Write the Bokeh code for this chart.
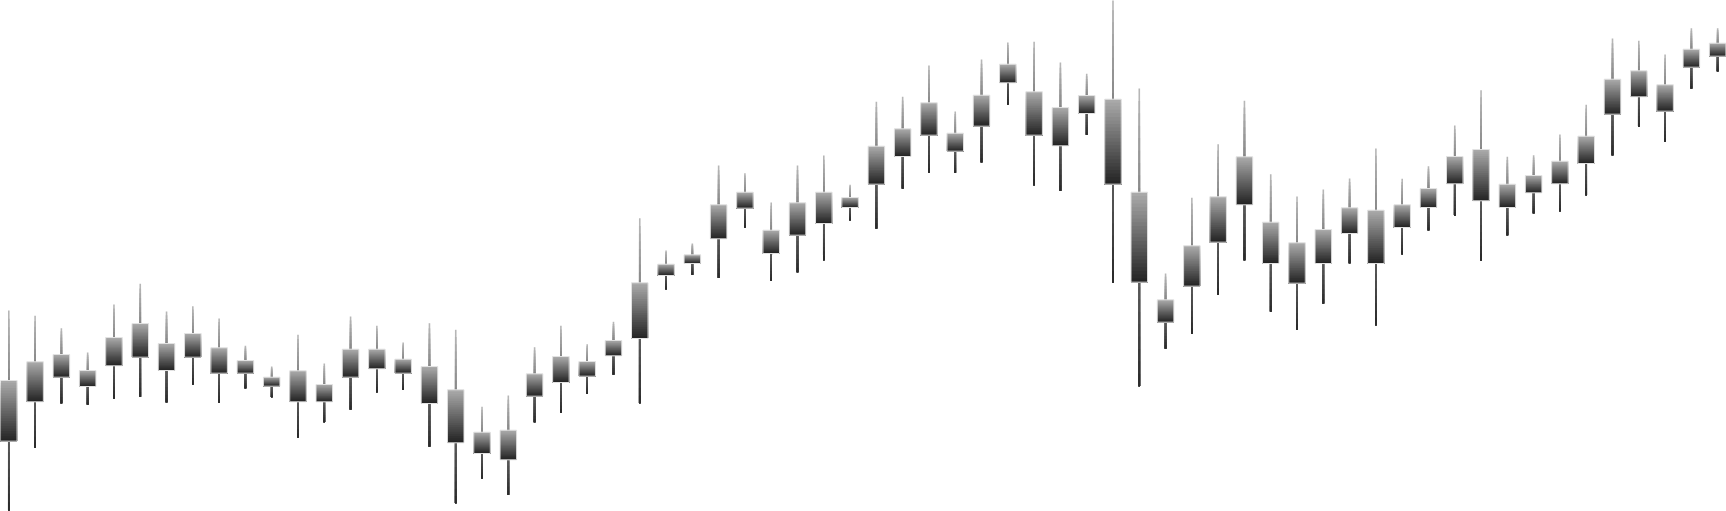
from bokeh.plotting import figure
from bokeh.models import Range1d, ColumnDataSource
from bokeh.embed import file_html
from bokeh.resources import INLINE

# OHLC data (66 sessions)
open_ = [112.0, 109.87, 112.33, 113.0, 113.47, 114.33, 115.7, 114.33, 115.27, 114.0,
         112.33, 112.97, 111.6, 112.33, 115.13, 114.13, 113.4, 111.07, 106.83, 104.07,
         110.43, 111.8, 113.9, 114.47, 116.2, 122.5, 123.7, 126.17, 129.23, 127.03,
         126.53, 127.7, 129.3, 131.63, 134.4, 136.53, 136.73, 137.43, 141.77, 140.87,
         139.3, 138.7, 140.13, 130.83, 120.07, 121.43, 125.83, 129.57, 127.83, 125.77,
         123.7, 126.7, 129.03, 127.3, 129.3, 131.67, 135.1, 129.3, 130.77, 131.67,
         133.7, 138.63, 140.37, 141.57, 143.33, 144.43]
high = [119.0, 118.47, 117.23, 114.8, 119.6, 121.67, 118.9, 119.43, 118.2, 115.47,
        113.4, 116.57, 113.7, 118.4, 117.47, 115.8, 117.73, 117.07, 109.37, 110.5,
        115.33, 117.47, 115.63, 117.87, 128.23, 125.0, 125.7, 133.5, 132.73, 129.8,
        133.5, 134.5, 131.57, 139.87, 140.37, 143.5, 138.9, 144.1, 145.8, 145.87,
        143.8, 142.67, 150.2, 141.2, 122.7, 130.27, 135.63, 139.97, 132.63, 130.4,
        131.1, 132.2, 135.2, 132.17, 133.43, 137.5, 141.03, 134.37, 134.53, 136.6,
        139.57, 146.2, 145.97, 144.6, 147.23, 147.23]
low = [99.0, 105.27, 109.73, 109.6, 110.2, 110.37, 109.83, 111.6, 109.77, 111.23,
       110.33, 106.3, 107.83, 109.1, 110.83, 111.07, 105.4, 99.73, 102.2, 100.57,
       107.83, 108.77, 110.67, 112.6, 109.73, 121.13, 122.57, 122.27, 127.3, 121.97,
       122.83, 124.03, 128.03, 127.2, 131.2, 132.77, 132.77, 133.83, 139.6, 131.53,
       130.97, 136.57, 121.77, 111.43, 115.2, 116.67, 120.57, 124.03, 118.9, 117.07,
       119.7, 123.73, 117.53, 124.63, 127.03, 128.47, 124.0, 126.53, 128.73, 128.93,
       130.53, 134.53, 137.37, 135.87, 141.2, 142.93]
close = [105.93, 113.87, 114.6, 111.4, 116.3, 117.7, 113.0, 116.7, 112.73, 112.73,
         111.43, 109.87, 109.87, 115.13, 113.17, 112.73, 109.7, 105.77, 104.7, 107.03,
         112.67, 114.4, 112.43, 116.0, 121.77, 123.63, 124.57, 129.57, 130.83, 124.7,
         129.77, 130.83, 130.3, 135.43, 137.17, 139.77, 134.93, 140.53, 143.63, 136.53,
         135.47, 140.5, 131.63, 121.83, 117.83, 125.47, 130.37, 134.37, 123.7, 121.73,
         127.1, 129.27, 123.7, 129.57, 131.2, 134.4, 129.97, 131.63, 132.5, 133.93,
         136.43, 142.13, 142.97, 138.93, 145.13, 145.73]

n = len(open_)
idx = list(range(n))
body_top = [max(o, c) for o, c in zip(open_, close)]
body_bot = [min(o, c) for o, c in zip(open_, close)]

N = 24  # gradient steps


def grey(t, light=172, dark=34):
    v = int(round(light + (dark - light) * t))
    return "#%02x%02x%02x" % (v, v, v)


# gradient slices for bodies (each slice runs down to the bottom; later, darker
# slices cover the lower part -> no seams)
bx, bt, bb, bc = [], [], [], []
wx, wt, wb, wc = [], [], [], []
for k in range(N):
    f = k / N
    col = grey((k + 0.5) / N)
    wcol = grey((k + 0.5) / N, light=185, dark=40)
    for i in idx:
        bx.append(i)
        bt.append(body_top[i] - f * (body_top[i] - body_bot[i]))
        bb.append(body_bot[i])
        bc.append(col)
        wx.append(i)
        wt.append(high[i] - f * (high[i] - low[i]))
        wb.append(low[i])
        wc.append(wcol)

p = figure(width=1726, height=511, output_backend="svg", toolbar_location=None,
           x_range=Range1d(-0.3157, 65.336), y_range=Range1d(98.9, 150.0),
           x_axis_type=None, y_axis_type=None, min_border=0,
           outline_line_color=None, background_fill_color="white",
           border_fill_color="white")
p.grid.visible = False

W = 0.63
p.segment(x0="x", y0="t", x1="x", y1="b", color="c", line_width=1.6,
          line_cap="butt", source=ColumnDataSource(dict(x=wx, t=wt, b=wb, c=wc)))
p.vbar(x="x", top="t", bottom="b", width=W, fill_color="c", line_color=None,
       source=ColumnDataSource(dict(x=bx, t=bt, b=bb, c=bc)))
p.vbar(x=idx, top=body_top, bottom=body_bot, width=W, fill_color=None,
       line_color="#e2e2e2", line_width=1)

open("out.html", "w").write(file_html(p, INLINE))
